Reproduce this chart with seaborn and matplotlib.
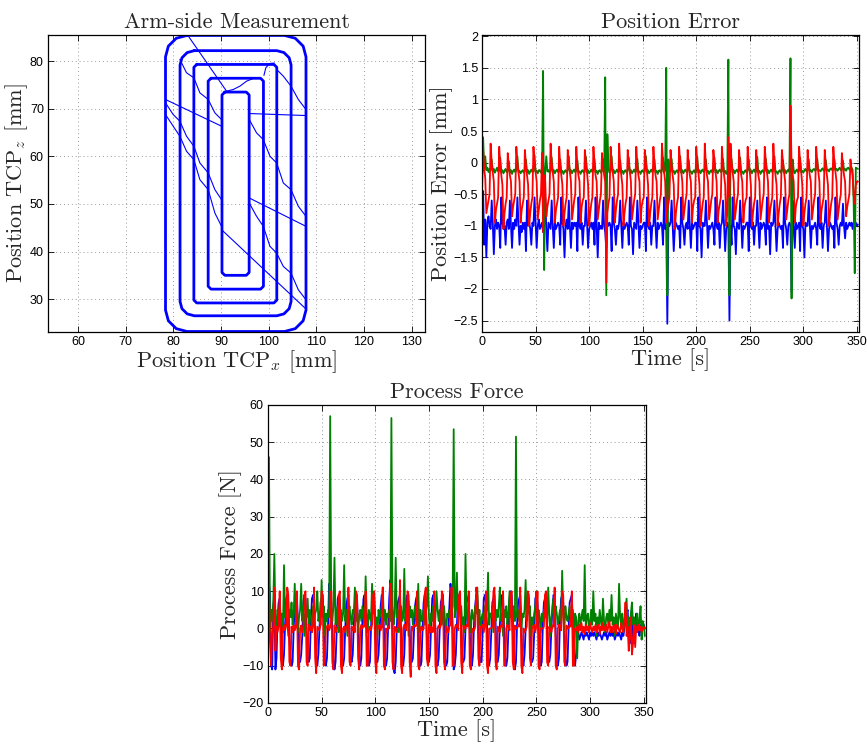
import numpy as np
import matplotlib
matplotlib.use("Agg")
import matplotlib.pyplot as plt
import seaborn as sns

# ---------------- Arm-side Measurement (TCP path, mm) ----------------
ring1_x = [82.85, 103.33, 105.58, 107.23, 107.83, 107.83, 107.23, 105.58, 103.33,
           82.85, 80.6, 78.95, 78.35, 78.35, 78.95, 80.6, 82.85]
ring1_z = [85.4, 85.4, 84.8, 83.15, 80.9, 27.7, 25.45, 23.8, 23.2,
           23.2, 23.8, 25.45, 27.7, 80.9, 83.15, 84.8, 85.4]
ring2_x = [84.4, 101.7, 103.2, 104.3, 104.7, 104.7, 104.3, 103.2, 101.7,
           84.4, 82.9, 81.8, 81.4, 81.4, 81.8, 82.9, 84.4]
ring2_z = [82.2, 82.2, 81.8, 80.7, 79.2, 29.5, 28.0, 26.9, 26.5,
           26.5, 26.9, 28.0, 29.5, 79.2, 80.7, 81.8, 82.2]
ring3_x = [84.9, 101.1, 101.7, 101.7, 101.1, 84.9, 84.3, 84.3, 84.9]
ring3_z = [79.3, 79.3, 78.7, 29.8, 29.2, 29.2, 29.8, 78.7, 79.3]
ring4_x = [87.9, 98.3, 98.9, 98.9, 98.3, 87.9, 87.3, 87.3, 87.9]
ring4_z = [76.4, 76.4, 75.8, 32.7, 32.1, 32.1, 32.7, 75.8, 76.4]
ring5_x = [90.8, 95.3, 95.9, 95.9, 95.3, 90.8, 90.2, 90.2, 90.8]
ring5_z = [73.5, 73.5, 72.9, 35.6, 35.0, 35.0, 35.6, 72.9, 73.5]

# thin transition strokes between the rings
moves = [
    ([78.35, 90.11], [71.94, 66.33]),
    ([95.92, 107.83], [68.99, 68.57]),
    ([95.92, 107.83], [51.25, 45.29]),
    ([90.11, 107.63], [44.59, 28.11]),
    ([83.11, 91.16], [85.3, 73.69]),
    ([91.16, 92.56, 93.96, 95.36, 96.76, 98.5], [73.69, 74.04, 74.74, 75.79, 76.35, 76.35]),
    ([99.0, 99.4, 100.2, 101.2], [77.0, 78.6, 79.5, 79.6]),
    ([78.35, 79.96, 81.36, 82.76, 84.30, 85.56, 87.31, 88.71, 90.11],
     [71.23, 68.78, 67.38, 64.22, 62.12, 58.61, 56.51, 53.00, 50.90]),
    ([78.35, 79.96, 81.36, 82.76, 84.30, 85.56, 87.31, 88.71, 90.11],
     [68.78, 66.33, 64.22, 61.07, 59.31, 55.10, 53.00, 48.09, 45.29]),
    ([81.36, 82.76, 84.30, 85.56, 87.31, 88.71, 90.11],
     [80.35, 77.55, 76.49, 73.34, 71.94, 69.13, 67.73]),
    ([95.92, 97.46, 98.87, 100.27, 101.67, 103.07, 104.68, 106.22, 107.83],
     [67.73, 64.92, 63.52, 60.01, 58.61, 54.40, 53.00, 49.50, 47.39]),
    ([95.92, 97.46, 98.87, 100.27, 101.67, 103.07, 104.68, 106.22, 107.83],
     [50.20, 47.39, 45.29, 41.08, 39.68, 36.87, 35.47, 31.96, 29.86]),
    ([101.67, 103.07, 104.68, 106.22, 107.83], [78.25, 76.84, 74.74, 71.94, 69.83]),
]

# ---------------- Position Error [mm], one sample per second ----------------
pe_green = [
    -0.05, 0.40, -0.10, 0.10, -0.12, -0.08, -0.15, -0.10,
    -0.12, 0.05, -0.14, -0.10, -0.16, -0.12, -0.08, -0.14,
    -0.13, 0.08, -0.15, -0.12, -0.17, -0.13, -0.10, -0.15,
    -0.14, 0.02, -0.16, -0.12, -0.18, -0.13, -0.11, -0.15,
    -0.12, 0.10, -0.15, -0.13, -0.17, -0.14, -0.12, -0.16,
    -0.13, 0.05, -0.16, -0.12, -0.18, -0.14, -0.11, -0.15,
    -0.14, 0.12, -0.15, -0.13, -0.17, -0.12, -0.12, -0.16,
    -0.13, 1.45, -1.70, -0.12, 0.10, -0.14, -0.12, -0.16,
    -0.13, 0.08, -0.16, -0.12, -0.17, -0.13, -0.11, -0.15,
    -0.14, 0.05, -0.15, -0.13, -0.18, -0.14, -0.12, -0.16,
    -0.12, 0.10, -0.16, -0.12, -0.17, -0.13, -0.11, -0.15,
    -0.13, 0.04, -0.15, -0.14, -0.18, -0.13, -0.12, -0.16,
    -0.14, 0.09, -0.16, -0.12, -0.17, -0.14, -0.11, -0.15,
    -0.12, 0.06, -0.15, -0.13, -0.18, -0.13, -0.12, -0.16,
    -0.13, 0.05, -0.15, 1.35, -2.10, 0.45, -0.10, -0.16,
    -0.13, 0.10, -0.16, -0.12, -0.17, -0.14, -0.11, -0.15,
    -0.14, 0.04, -0.15, -0.13, -0.18, -0.13, -0.12, -0.16,
    -0.12, 0.08, -0.16, -0.12, -0.17, -0.14, -0.11, -0.15,
    -0.13, 0.06, -0.15, -0.14, -0.18, -0.13, -0.12, -0.16,
    -0.14, 0.10, -0.16, -0.12, -0.17, -0.14, -0.11, -0.15,
    -0.12, 0.05, -0.15, -0.13, -0.18, -0.13, -0.12, -0.16,
    -0.13, 0.08, -0.16, -0.12, 1.50, -2.10, 0.05, -0.15,
    -0.14, 0.06, -0.15, -0.13, -0.18, -0.14, -0.12, -0.16,
    -0.12, 0.10, -0.16, -0.12, -0.17, -0.13, -0.11, -0.15,
    -0.13, 0.04, -0.15, -0.14, -0.18, -0.14, -0.12, -0.16,
    -0.14, 0.09, -0.16, -0.12, -0.17, -0.13, -0.11, -0.15,
    -0.12, 0.05, -0.15, -0.13, -0.18, -0.14, -0.12, -0.16,
    -0.13, 0.08, -0.16, -0.12, -0.17, -0.13, -0.11, -0.15,
    -0.14, 0.06, -0.15, -0.13, -0.18, -0.14, 1.63, -2.10,
    0.10, 0.05, -0.16, -0.12, -0.17, -0.13, -0.11, -0.15,
    -0.13, 0.08, -0.15, -0.14, -0.18, -0.14, -0.12, -0.16,
    -0.12, 0.05, -0.16, -0.12, -0.17, -0.13, -0.11, -0.15,
    -0.14, 0.09, -0.15, -0.13, -0.18, -0.14, -0.12, -0.16,
    -0.13, 0.06, -0.16, -0.12, -0.17, -0.13, -0.11, -0.15,
    -0.12, 0.10, -0.15, -0.14, -0.18, -0.14, -0.12, -0.16,
    -0.14, 0.04, -0.16, -0.12, -0.17, -0.13, -0.11, -0.15,
    1.65, -2.15, 0.05, -0.12, -0.17, -0.13, -0.11, -0.15,
    -0.13, 0.08, -0.15, -0.13, -0.16, -0.12, -0.10, -0.14,
    -0.12, 0.05, -0.14, -0.12, -0.15, -0.11, -0.10, -0.13,
    -0.11, 0.06, -0.13, -0.12, -0.14, -0.11, -0.09, -0.13,
    -0.12, 0.04, -0.13, -0.11, -0.14, -0.10, -0.09, -0.12,
    -0.11, 0.05, -0.12, -0.10, -0.13, -0.10, -0.08, -0.12,
    -0.10, 0.03, -0.12, -0.10, -0.13, -0.09, -0.08, -0.11,
    -0.10, -0.08, -0.11, -0.65, -1.75, -0.08, -0.09, -0.10,
]
pe_blue = [
    -1.00, -0.45, -1.30, -0.90, -1.50, -0.95, -0.85, -1.00,
    -1.05, -0.60, -0.95, -1.45, -1.00, -0.90, -1.05, -0.95,
    -1.00, -1.35, -0.55, -0.95, -1.05, -1.00, -1.30, -0.95,
    -0.90, -1.05, -0.60, -1.00, -1.35, -0.95, -1.05, -0.90,
    -1.00, -0.55, -0.95, -1.30, -1.00, -1.10, -0.95, -1.05,
    -0.95, -1.40, -0.60, -1.00, -0.95, -1.05, -1.30, -0.95,
    -1.00, -0.55, -0.95, -1.35, -1.00, -0.90, -1.05, -1.00,
    -0.95, -1.10, -1.00, -0.55, -1.05, -1.40, -0.95, -1.00,
    -1.05, -0.60, -1.00, -1.35, -0.95, -1.05, -1.00, -0.95,
    -1.00, -1.30, -0.55, -0.95, -1.05, -1.50, -1.00, -0.90,
    -1.05, -0.60, -1.00, -1.35, -0.95, -1.05, -0.95, -1.00,
    -0.95, -1.40, -0.55, -1.00, -1.05, -0.95, -1.30, -1.00,
    -1.00, -0.60, -0.95, -1.35, -1.05, -1.00, -0.95, -1.05,
    -0.95, -1.30, -0.55, -1.00, -1.50, -0.95, -1.05, -1.00,
    -1.05, -0.60, -1.00, -1.10, -1.35, -0.95, -1.00, -0.95,
    -1.00, -1.40, -0.55, -0.95, -1.05, -1.30, -1.00, -1.05,
    -0.95, -0.60, -1.00, -1.35, -0.95, -1.05, -1.00, -0.95,
    -1.00, -1.30, -0.55, -1.00, -1.05, -1.45, -0.95, -1.00,
    -1.05, -0.60, -0.95, -1.35, -1.00, -1.05, -1.00, -0.95,
    -0.95, -1.40, -0.55, -1.00, -1.05, -0.95, -1.30, -1.00,
    -1.00, -0.60, -1.00, -1.35, -0.95, -1.05, -1.00, -0.95,
    -1.00, -1.30, -0.55, -1.05, -1.00, -2.55, -0.95, -1.00,
    -0.95, -0.60, -1.00, -1.40, -1.05, -0.95, -1.00, -1.05,
    -1.00, -1.35, -0.55, -0.95, -1.05, -1.30, -1.00, -0.95,
    -1.05, -0.60, -1.00, -1.35, -0.95, -1.05, -1.00, -0.95,
    -0.95, -1.40, -0.55, -1.00, -1.05, -1.50, -0.95, -1.00,
    -1.00, -0.60, -0.95, -1.35, -1.00, -1.05, -1.00, -0.95,
    -1.05, -1.30, -0.55, -1.00, -1.05, -0.95, -1.35, -1.00,
    -0.95, -0.60, -1.00, -1.40, -1.05, -0.95, -1.00, -2.50,
    -1.00, -1.30, -0.55, -1.00, -1.05, -1.45, -0.95, -1.00,
    -1.05, -0.60, -0.95, -1.35, -1.00, -1.05, -1.00, -0.95,
    -0.95, -1.40, -0.55, -1.00, -1.05, -0.95, -1.30, -1.00,
    -1.00, -0.60, -1.00, -1.35, -0.95, -1.05, -1.00, -0.95,
    -1.00, -1.30, -0.55, -1.05, -1.00, -1.45, -0.95, -1.00,
    -0.95, -0.60, -1.00, -1.40, -1.05, -0.95, -1.00, -1.05,
    -1.00, -1.35, -0.55, -0.95, -1.05, -1.30, -1.00, -0.95,
    -1.00, -2.05, -0.60, -1.00, -1.35, -0.95, -1.05, -1.00,
    -0.95, -1.40, -0.55, -1.00, -1.05, -1.50, -0.95, -1.00,
    -1.00, -0.60, -0.95, -1.35, -1.00, -1.05, -1.00, -0.95,
    -1.05, -1.30, -0.55, -1.00, -1.05, -0.95, -1.35, -1.00,
    -0.95, -0.60, -1.00, -1.40, -1.05, -0.95, -1.00, -1.05,
    -1.00, -1.35, -0.55, -0.95, -1.05, -1.30, -1.00, -0.95,
    -1.00, -0.65, -1.00, -1.20, -0.95, -1.05, -1.00, -0.95,
    -1.00, -0.95, -1.05, -0.95, -1.00, -0.95, -1.00, -0.98,
]
pe_red = [
    -0.45, 0.20, -0.10, -0.25, -0.80, -0.70, -0.60, -0.50,
    0.30, 0.00, -0.15, -0.30, -0.95, -0.75, -0.65, -0.55,
    0.25, -0.05, -0.20, -0.35, -1.05, -0.80, -0.65, -0.55,
    0.15, -0.05, -0.20, -0.30, -0.85, -0.70, -0.60, -0.50,
    0.25, 0.00, -0.15, -0.30, -0.95, -0.75, -0.65, -0.55,
    0.20, -0.05, -0.20, -0.35, -1.00, -0.80, -0.65, -0.55,
    0.25, 0.00, -0.15, -0.30, -0.90, -0.75, -0.60, -0.50,
    0.15, -1.10, -0.20, -0.30, -0.85, -0.70, -0.60, -0.50,
    0.30, 0.00, -0.15, -0.30, -0.95, -0.75, -0.65, -0.55,
    0.25, -0.05, -0.20, -0.35, -1.00, -0.80, -0.65, -0.55,
    0.20, 0.00, -0.15, -0.30, -0.90, -0.75, -0.60, -0.50,
    0.25, -0.05, -0.20, -0.30, -0.95, -0.70, -0.60, -0.55,
    0.20, 0.00, -0.15, -0.35, -1.00, -0.80, -0.65, -0.55,
    0.25, -0.05, -0.20, -0.30, -0.90, -0.75, -0.60, -0.50,
    0.15, -0.05, -0.20, -0.30, -1.90, -0.80, -0.65, -0.55,
    0.25, 0.00, -0.15, -0.30, -0.95, -0.75, -0.60, -0.50,
    0.30, -0.05, -0.20, -0.35, -1.00, -0.80, -0.65, -0.55,
    0.20, 0.00, -0.15, -0.30, -0.90, -0.75, -0.60, -0.50,
    0.25, -0.05, -0.20, -0.30, -0.95, -0.70, -0.60, -0.55,
    0.20, 0.00, -0.15, -0.35, -1.00, -0.80, -0.65, -0.55,
    0.25, -0.05, -0.20, -0.30, -0.90, -0.75, -0.60, -0.50,
    0.30, 0.00, -0.15, -0.30, -0.95, -0.75, -0.65, -0.55,
    0.20, -0.05, -0.20, -0.35, -1.05, -0.80, -0.65, -0.55,
    0.25, 0.00, -0.15, -0.30, -0.90, -0.75, -0.60, -0.50,
    0.20, -0.05, -0.20, -0.30, -0.95, -0.70, -0.60, -0.55,
    0.25, 0.00, -0.15, -0.35, -1.00, -0.80, -0.65, -0.55,
    0.30, -0.05, -0.20, -0.30, -0.90, -0.75, -0.60, -0.50,
    0.20, 0.00, -0.15, -0.30, -0.95, -0.75, -0.65, -0.55,
    0.25, -0.05, -0.20, -0.35, -1.00, -0.80, 0.40, -0.55,
    0.30, 0.00, -0.15, -0.30, -0.90, -0.75, -0.60, -0.50,
    0.20, -0.05, -0.20, -0.30, -0.95, -0.70, -0.60, -0.55,
    0.25, 0.00, -0.15, -0.35, -1.00, -0.80, -0.65, -0.55,
    0.20, -0.05, -0.20, -0.30, -0.90, -0.75, -0.60, -0.50,
    0.25, 0.00, -0.15, -0.30, -0.95, -0.75, -0.65, -0.55,
    0.30, -0.05, -0.20, -0.35, -1.00, -0.80, -0.65, -0.55,
    0.20, 0.00, -0.15, -0.30, -0.90, -0.75, -0.60, -0.50,
    0.90, -0.05, -0.20, -0.30, -0.95, -0.70, -0.60, -0.55,
    0.25, 0.00, -0.15, -0.35, -1.00, -0.80, -0.65, -0.55,
    0.20, -0.05, -0.20, -0.30, -0.90, -0.75, -0.60, -0.50,
    0.25, 0.00, -0.15, -0.30, -0.95, -0.75, -0.65, -0.55,
    0.20, -0.05, -0.20, -0.35, -1.00, -0.80, -0.65, -0.55,
    0.25, 0.00, -0.15, -0.30, -0.90, -0.75, -0.60, -0.50,
    0.15, -0.05, -0.20, -0.30, -0.85, -0.70, -0.60, -0.50,
    0.05, -0.10, -0.20, -0.50, -0.65, -0.35, -0.30, -0.30,
]

# ---------------- Process Force [N], one sample per second ----------------
pf_blue = [
    -6, 12, 9, -10, -11, 6, 9, -11,
    -8, 3, 7, 8, 2, -9, -10, -7,
    1, 8, 9, 7, -2, -8, -10, -9,
    0, 6, 8, 9, 1, -8, -9, -7,
    -2, 7, 9, 8, 0, -7, -9, -8,
    2, 8, 9, 6, -1, -8, -10, -7,
    0, 7, 8, 9, 2, -9, -10, -8,
    1, 12, 10, 7, 0, -8, -11, -9,
    -1, 8, 9, 7, 2, -9, -10, -8,
    0, 6, 8, 9, -1, -8, -9, -7,
    1, 7, 9, 8, 0, -7, -10, -8,
    2, 8, 9, 6, -2, -8, -10, -9,
    0, 7, 8, 9, 1, -9, -9, -7,
    -1, 6, 9, 8, 0, -8, -10, -8,
    1, 8, 13, 10, 2, -11, -12, -9,
    0, 7, 8, 9, -1, -9, -10, -7,
    2, 8, 9, 7, 0, -8, -9, -8,
    -1, 6, 8, 9, 1, -7, -10, -9,
    0, 7, 9, 8, -2, -8, -9, -7,
    1, 8, 9, 6, 0, -9, -10, -8,
    0, 7, 8, 9, 2, -8, -10, -9,
    -1, 6, 12, 9, 1, -11, -10, -7,
    1, 8, 9, 7, 0, -8, -9, -8,
    0, 7, 8, 9, -1, -9, -10, -7,
    2, 6, 9, 8, 0, -7, -9, -9,
    0, 8, 9, 7, 1, -8, -10, -8,
    -1, 7, 8, 9, 2, -9, -9, -7,
    1, 6, 9, 8, 0, -8, -10, -8,
    0, 8, 10, 9, -1, -10, -11, -9,
    1, 7, 8, 9, 0, -9, -10, -7,
    0, 6, 9, 8, 2, -8, -9, -8,
    -1, 8, 9, 7, 1, -7, -10, -9,
    1, 7, 8, 9, 0, -8, -9, -7,
    0, 6, 9, 8, -1, -9, -10, -8,
    2, 8, 9, 7, 0, -8, -10, -9,
    0, 7, 8, 9, 1, -9, -10, -7,
    -2, -1, -3, -2, -1, -2, -3, -1,
    -2, -1, -2, -3, -1, -2, -1, -2,
    -1, -2, -3, -1, -2, -1, -2, -3,
    -2, -1, -2, -1, -3, -2, -1, -2,
    -1, -2, -1, -3, -2, -1, -2, -1,
    -2, -3, -1, -2, 0, 2, 4, 5,
    -2, -4, 3, 5, -3, -4, 2, 4,
    -1, 0, -2, 1, -1, 0, 1, 0,
]
pf_green = [
    3, 46, -1, 5, 2, 7, 20, 3,
    -2, 5, 3, 6, 1, 4, -1, 17,
    3, 6, 2, -2, 5, 3, 7, 1,
    4, 12, 2, 6, -1, 3, 5, 12,
    2, 6, -2, 4, 3, 8, 1, 5,
    3, -1, 6, 2, 4, 5, 10, 2,
    4, 1, 13, 3, 6, -2, 4, 2,
    5, 3, 57, 4, 2, 6, 19, 1,
    4, 6, -1, 3, 5, 2, 4, 17,
    2, 5, -2, 4, 6, 3, 1, 5,
    4, 11, 2, 6, -1, 3, 5, 2,
    6, 3, 1, 14, 4, -1, 5, 3,
    2, 12, 4, 6, 1, 3, -2, 5,
    3, 4, 6, 11, 2, 5, 1, 4,
    3, 5, 2, 56.5, 6, 1, 4, 19,
    3, 5, -1, 4, 6, 2, 3, 16,
    2, 5, 4, -2, 6, 3, 5, 1,
    4, 6, 2, 3, 12, -1, 5, 2,
    3, 5, 1, 4, 6, 14, 3, -1,
    4, 2, 6, -1, 3, 10, 5, 2,
    5, 3, 1, 4, 6, 2, -1, 4,
    3, 5, 2, 4, 6, 53.5, 3, 5,
    15, 2, 5, 4, 6, 1, 3, -1,
    20, 4, 2, 6, 3, -1, 5, 3,
    2, 6, 4, 11, 1, 5, -2, 3,
    4, 2, 6, 3, 5, 15, 1, 4,
    3, 6, -1, 4, 2, 5, 3, 6,
    11, 2, 4, -2, 5, 3, 6, 1,
    4, 10, 3, 5, -1, 6, 2, 51.5,
    3, 5, 2, 6, -1, 4, 3, 5,
    13, 2, 5, 4, 6, -2, 3, 1,
    4, 6, 10, 2, 5, 3, -1, 4,
    2, 5, 3, 6, 1, 11, 4, -2,
    3, 5, 8, 2, 6, 4, 1, 3,
    5, 2, 15.5, 4, -1, 6, 3, 2,
    4, 6, 1, 3, 5, -2, 4, 3,
    -8, 2, 4, 1, 3, 5, 2, 17,
    1, 3, 4, -1, 2, 5, 1, 10,
    2, 4, -2, 3, 1, 5, 2, 0,
    8, 2, -1, 3, 4, 1, 5, 2,
    9, 1, 3, -2, 4, 2, 0, 12,
    3, 1, 4, -1, 2, 5, 8, 1,
    3, -2, 4, 7, 1, 3, -1, 2,
    4, 0, 2, 6, -3, 2, 1, -2,
]
pf_red = [
    7, 10, -4, -10, -1, 0.5, 11, -6,
    0.5, -1, 0.8, 10, -8, -11, 0, 1,
    -0.5, 0.8, 11, 9, -9, -10, 0.5, -1,
    1, -0.5, 0.5, 10, -10, -11, 0, 0.8,
    -1, 0.5, 9, 10, -9, -10, 1, -0.5,
    0.5, -1, 0.8, 11, -8, -12, 0.5, 0,
    -0.5, 1, 10, 9, -10, -9, 0, 0.5,
    1, -0.5, 0.5, 10, -9, -11, 0.8, -1,
    0, 0.8, 9, 10, -10, -12, 0, 0.5,
    -1, 0.5, 1, 11, -9, -10, 0.5, -0.5,
    0.5, -1, 10, 9, -8, -11, 0, 1,
    0, 0.8, 0.5, 10, -10, -10, -0.5, 0.5,
    -0.5, 1, 9, 10, -9, -12, 0.8, 0,
    1, -0.5, 0.5, 11, -10, -11, 0, -1,
    0.5, 0, 12, 10, -9, -11, 0.5, 0,
    -1, 0.8, 0.5, 13, -10, -12, 0, 1,
    0, -0.5, 10, 9, -9, -13, 0.5, -0.5,
    1, 0.5, 0.8, 10, -10, -11, 0, 0.5,
    -0.5, 0, 9, 11, -8, -10, 1, -1,
    0.5, -1, 0.5, 10, -10, -12, 0, 0.8,
    0, 0.8, 10, 9, -9, -11, 0.5, -0.5,
    -1, 0.5, 1, 11, -10, -10, 0, 1,
    0.5, -0.5, 9, 10, -9, -12, 0.8, 0,
    0, 1, 0.5, 10, -10, -11, 0, -1,
    -0.5, 0.5, 11, 9, -8, -10, 0.5, 0.5,
    1, -1, 0.8, 10, -10, -12, 0, 0,
    0, 0.5, 10, 11, -9, -11, 0.5, -0.5,
    -1, 0.8, 0.5, 10, -10, -10, 0, 1,
    0.5, -0.5, 9, 10, -9, -11, 0.8, 0,
    0, 1, 0.5, 11, -10, -12, 0, -1,
    -0.5, 0.5, 10, 9, -8, -10, 0.5, 0.5,
    1, -1, 0.8, 10, -10, -11, 0, 0,
    0, 0.5, 9, 10, -9, -10, 0.5, -0.5,
    -1, 0.8, 0.5, 11, -10, -11, 0, 1,
    0.5, -0.5, 10, 9, -9, -10, 0.8, 0,
    0, 1, 0.5, 10, -10, -10, 0, -0.5,
    0.5, -1, 1, -0.5, 1.5, -1, 0.5, -1.5,
    1, -0.5, 0.5, -1, 1.5, 0, -1, 0.5,
    -0.5, 1, -1, 0.5, 1, -1.5, 0.5, -0.5,
    1.5, -0.5, 0, 1, -1, 0.5, 2, -1,
    0.5, -1, 1, 0, -1.5, 1, 0.5, -0.5,
    -1, 1.5, 0, -1, 2, 7, -2, 0.5,
    -6, -2, 3, -7, -4, 1, -5, 0.5,
    -1, 1, -0.5, 0.5, -1, 0, 0.5, 0,
]
sample_period = 1.0  # s

BLUE, GREEN, RED = "#0000ff", "#008000", "#ff0000"
SERIF = "cmr10"
LABEL_SIZE = 16

sns.set_style("ticks")
plt.rcParams["font.family"] = ["Liberation Sans", "DejaVu Sans"]
plt.rcParams["mathtext.fontset"] = "cm"


def style_axes(ax):
    ax.grid(True, linestyle=(0, (1, 3)), color="#9a9a9a", linewidth=0.7)
    ax.set_axisbelow(True)
    ax.tick_params(direction="in", top=True, right=True, length=4, width=0.6,
                   labelsize=9, pad=3, colors="black")
    for s in ax.spines.values():
        s.set_linewidth(0.9)
        s.set_color("black")


def time_plot(ax, series, colors, lw):
    for vals, c in zip(series, colors):
        t = np.arange(len(vals)) * sample_period
        sns.lineplot(x=t, y=vals, ax=ax, color=c, linewidth=lw,
                     estimator=None, sort=False, legend=False)


def labels(ax, title, xlabel, ylabel):
    ax.set_title(title, fontfamily=SERIF, fontsize=LABEL_SIZE, pad=5)
    ax.set_xlabel(xlabel, fontfamily=SERIF, fontsize=LABEL_SIZE, labelpad=0)
    ax.set_ylabel(ylabel, fontfamily=SERIF, fontsize=LABEL_SIZE, labelpad=0)


fig = plt.figure(figsize=(8.67, 7.45), dpi=100)

# Arm-side Measurement
ax1 = fig.add_axes([0.0554, 0.5544, 0.4348, 0.3987])
for mx, mz in moves:
    sns.lineplot(x=mx, y=mz, ax=ax1, color=BLUE, linewidth=0.8,
                 estimator=None, sort=False, legend=False)
for rx, rz in [(ring1_x, ring1_z), (ring2_x, ring2_z), (ring3_x, ring3_z),
               (ring4_x, ring4_z), (ring5_x, ring5_z)]:
    sns.lineplot(x=rx, y=rz, ax=ax1, color=BLUE, linewidth=2.0,
                 estimator=None, sort=False, legend=False)
ax1.set_xlim(53.7, 132.8)
ax1.set_ylim(23.1, 85.5)
ax1.set_xticks(range(60, 131, 10))
ax1.set_yticks(range(30, 81, 10))
style_axes(ax1)
labels(ax1, "Arm-side Measurement", "Position TCP$_x$ [mm]", "Position TCP$_z$ [mm]")

# Position Error
ax2 = fig.add_axes([0.556, 0.5544, 0.4348, 0.3987])
time_plot(ax2, [pe_blue, pe_green, pe_red], [BLUE, GREEN, RED], 1.3)
ax2.set_xlim(0, 352)
ax2.set_ylim(-2.68, 2.02)
ax2.set_xticks(range(0, 351, 50))
ax2.set_yticks([-2.5, -2, -1.5, -1, -0.5, 0, 0.5, 1, 1.5, 2])
ax2.set_yticklabels(["\u22122.5", "\u22122", "\u22121.5", "\u22121", "\u22120.5",
                     "0", "0.5", "1", "1.5", "2"])
style_axes(ax2)
labels(ax2, "Position Error", "Time [s]", "Position Error [mm]")

# Process Force
ax3 = fig.add_axes([0.309, 0.0564, 0.436, 0.4])
time_plot(ax3, [pf_blue, pf_green, pf_red], [BLUE, GREEN, RED], 1.3)
ax3.set_xlim(0, 352)
ax3.set_ylim(-20, 60)
ax3.set_xticks(range(0, 351, 50))
ax3.set_yticks(range(-20, 61, 10))
ax3.set_yticklabels(["\u221220" if v == -20 else ("\u221210" if v == -10 else str(v))
                     for v in range(-20, 61, 10)])
style_axes(ax3)
labels(ax3, "Process Force", "Time [s]", "Process Force [N]")

fig.savefig("out.png", dpi=100)
